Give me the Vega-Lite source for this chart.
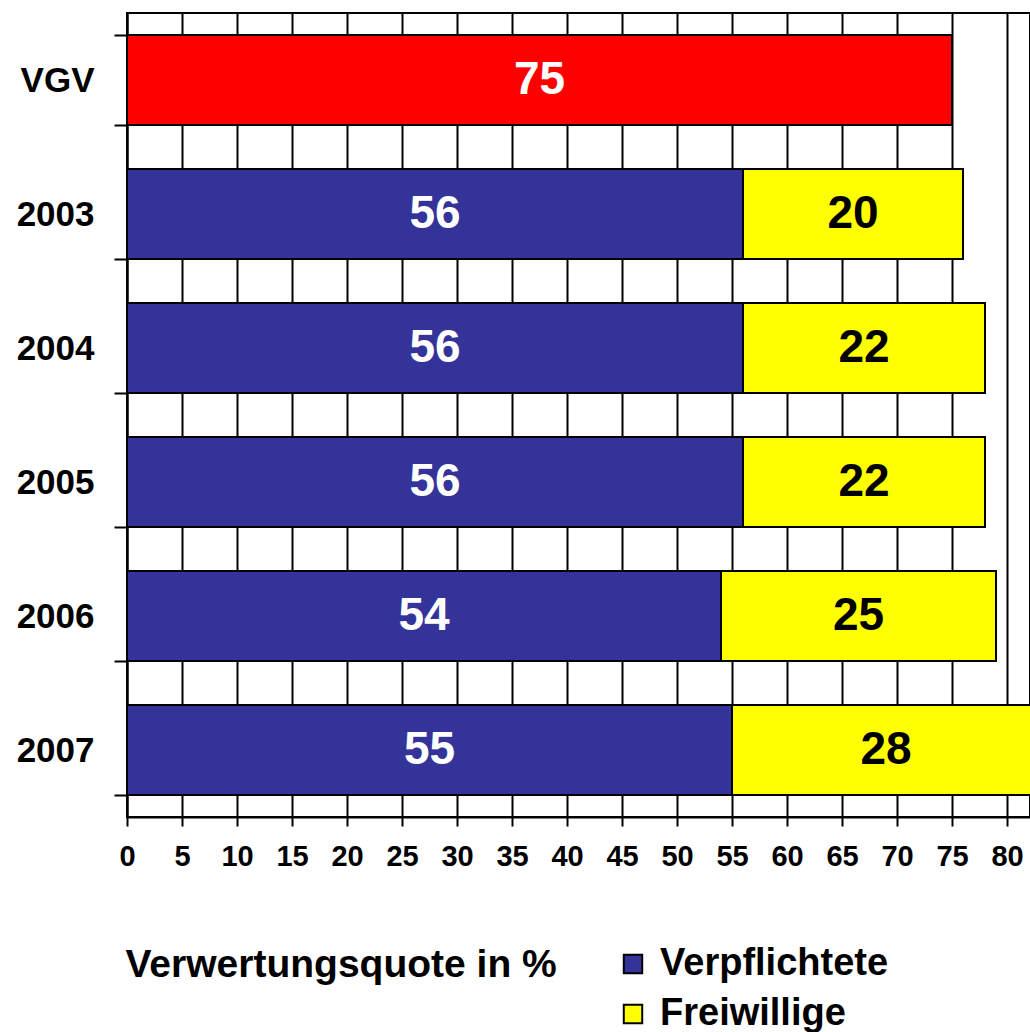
{
  "$schema": "https://vega.github.io/schema/vega-lite/v6.json",
  "autosize": {"type": "none"},
  "padding": {"left": 127, "top": 13, "right": 0, "bottom": 215},
  "width": 903,
  "height": 804,
  "background": "white",
  "config": {
    "font": "Liberation Sans",
    "view": {"stroke": "black", "strokeWidth": 2}
  },
  "data": {
    "values": [
      {"cat": "VGV", "series": "VGV", "ord": 0, "value": 75},
      {"cat": "2003", "series": "Verpflichtete", "ord": 1, "value": 56},
      {"cat": "2003", "series": "Freiwillige", "ord": 2, "value": 20},
      {"cat": "2004", "series": "Verpflichtete", "ord": 1, "value": 56},
      {"cat": "2004", "series": "Freiwillige", "ord": 2, "value": 22},
      {"cat": "2005", "series": "Verpflichtete", "ord": 1, "value": 56},
      {"cat": "2005", "series": "Freiwillige", "ord": 2, "value": 22},
      {"cat": "2006", "series": "Verpflichtete", "ord": 1, "value": 54},
      {"cat": "2006", "series": "Freiwillige", "ord": 2, "value": 25},
      {"cat": "2007", "series": "Verpflichtete", "ord": 1, "value": 55},
      {"cat": "2007", "series": "Freiwillige", "ord": 2, "value": 28}
    ]
  },
  "transform": [
    {"stack": "value", "groupby": ["cat"], "sort": [{"field": "ord", "order": "ascending"}], "as": ["v0", "v1"]},
    {"calculate": "(datum.v0 + datum.v1) / 2", "as": "mid"}
  ],
  "encoding": {
    "y": {
      "field": "cat",
      "type": "nominal",
      "sort": ["VGV", "2003", "2004", "2005", "2006", "2007"],
      "scale": {"paddingInner": 0.328, "paddingOuter": 0.164},
      "axis": {
        "title": null,
        "labelFontSize": 35,
        "labelFontWeight": "bold",
        "labelColor": "black",
        "labelPadding": 20,
        "tickBand": "extent",
        "tickSize": 13,
        "tickColor": "black",
        "tickWidth": 2,
        "domainColor": "black",
        "domainWidth": 2,
        "grid": false
      }
    }
  },
  "layer": [
    {
      "mark": {"type": "bar", "stroke": "black", "strokeWidth": 2, "clip": true},
      "encoding": {
        "x": {
          "field": "v0",
          "type": "quantitative",
          "scale": {"domain": [0, 82.09], "nice": false, "zero": true},
          "axis": {
            "values": [0, 5, 10, 15, 20, 25, 30, 35, 40, 45, 50, 55, 60, 65, 70, 75, 80],
            "title": "Verwertungsquote in %",
            "titleFontSize": 39,
            "titleFontWeight": "bold",
            "titleColor": "black",
            "titleAnchor": "start",
            "titleAlign": "left",
            "titleBaseline": "alphabetic",
            "titleX": -2,
            "titleY": 159,
            "labelFontSize": 29,
            "labelFontWeight": "bold",
            "labelColor": "black",
            "labelPadding": 16,
            "labelFlush": false,
            "labelOverlap": false,
            "tickSize": 9,
            "tickColor": "black",
            "tickWidth": 2,
            "domainColor": "black",
            "domainWidth": 2,
            "grid": true,
            "gridColor": "black",
            "gridWidth": 2,
            "gridOpacity": 1
          }
        },
        "x2": {"field": "v1"},
        "color": {
          "field": "series",
          "type": "nominal",
          "scale": {"domain": ["Verpflichtete", "Freiwillige", "VGV"], "range": ["#333399", "#ffff00", "#ff0000"]},
          "legend": {
            "values": ["Verpflichtete", "Freiwillige"],
            "title": null,
            "orient": "none",
            "legendX": 487,
            "legendY": 932,
            "symbolType": "square",
            "symbolSize": 340,
            "symbolStrokeColor": "black",
            "symbolStrokeWidth": 2,
            "symbolOpacity": 1,
            "labelFontSize": 38,
            "labelFontWeight": "bold",
            "labelColor": "black",
            "labelOffset": 8,
            "labelLimit": 0,
            "rowPadding": 12
          }
        }
      }
    },
    {
      "mark": {"type": "text", "fontSize": 46, "fontWeight": "bold", "align": "center", "baseline": "middle", "clip": true},
      "encoding": {
        "x": {"field": "mid", "type": "quantitative"},
        "text": {"field": "value", "type": "quantitative"},
        "color": {
          "condition": {"test": "datum.series === 'Freiwillige'", "value": "black"},
          "value": "white"
        }
      }
    }
  ]
}
